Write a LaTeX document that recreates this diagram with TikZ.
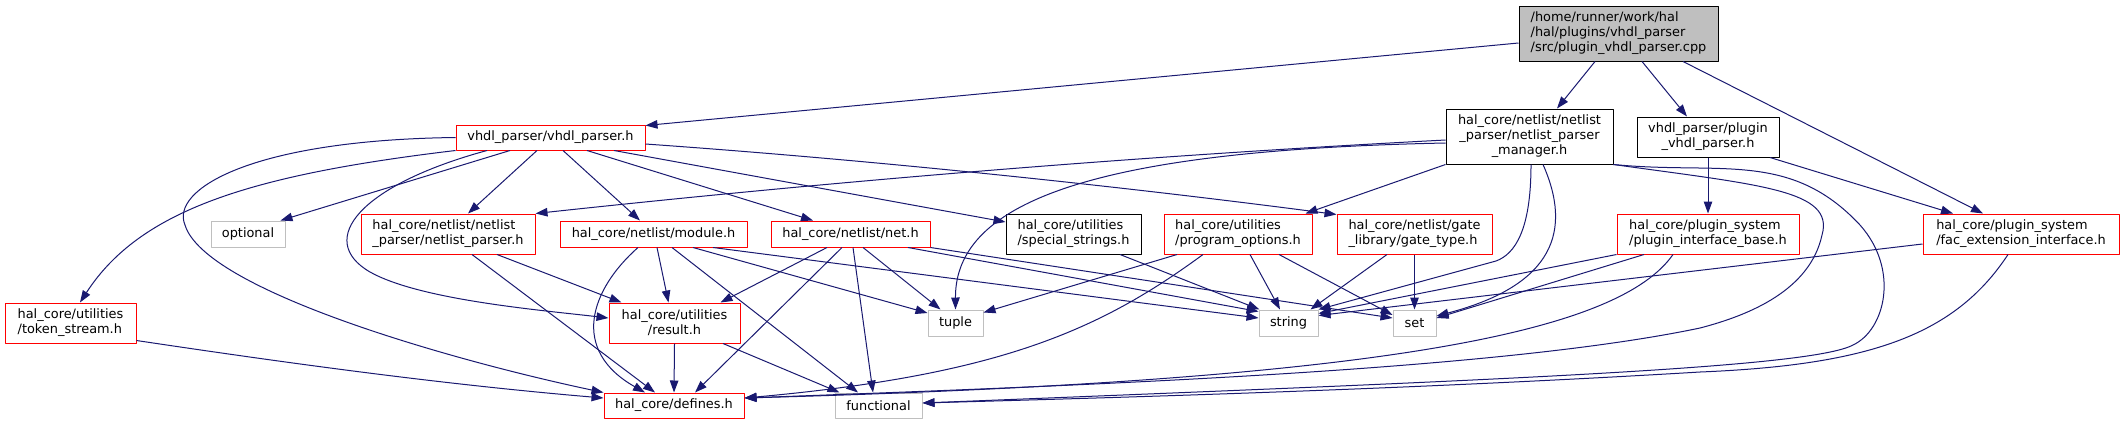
\documentclass[tikz,border=0pt]{standalone}
\usepackage{fontspec}
\setmainfont{DejaVu Sans}
\usepackage{tikz}
\usetikzlibrary{arrows.meta,calc}
\definecolor{edgeblue}{HTML}{191970}
\definecolor{sysgrey}{HTML}{BFBFBF}
\tikzset{hdr/.style 2 args={draw,inner sep=0pt,minimum width=#1pt,minimum height=#2pt,align=left,line width=1pt},
  redhdr/.style={draw=red},
  blkhdr/.style={draw=black},
  syshdr/.style={draw=sysgrey},
  incl/.style={->,edgeblue,line width=1pt}}

\begin{document}
\begin{tikzpicture}[x=1pt,y=-1pt,>={Triangle[length=12pt,width=8.5pt]},line join=round,font=\fontsize{12.9}{15}\selectfont]
\useasboundingbox (0,0) rectangle (2124,424);
% --- top: the source file and its direct includes
\node[hdr={199}{55},blkhdr,fill=sysgrey] (root) at (1618.5,33.5) {/home/runner/work/hal\\/hal/plugins/vhdl\_parser\\/src/plugin\_vhdl\_parser.cpp};
\node[hdr={189}{25},redhdr] (vhdl) at (550.5,137.5) {vhdl\_parser/vhdl\_parser.h};
\node[hdr={167}{55},blkhdr,align=center] (mgr) at (1529.5,136.5) {hal\_core/netlist/netlist\\\_parser/netlist\_parser\\\_manager.h};
\node[hdr={142}{40},blkhdr,align=center] (plug) at (1708,137) {vhdl\_parser/plugin\\\_vhdl\_parser.h};
% --- middle row
\node[hdr={131}{40},redhdr] (tok) at (70.5,323) {hal\_core/utilities\\/token\_stream.h};
\node[hdr={74}{26},syshdr] (opt) at (248,234) {optional};
\node[hdr={174}{40},redhdr] (nlp) at (448,234) {hal\_core/netlist/netlist\\\_parser/netlist\_parser.h};
\node[hdr={187}{26},redhdr] (mod) at (653.5,234) {hal\_core/netlist/module.h};
\node[hdr={159}{26},redhdr] (net) at (850.5,234) {hal\_core/netlist/net.h};
\node[hdr={135}{40},blkhdr] (sstr) at (1073.5,234) {hal\_core/utilities\\/special\_strings.h};
\node[hdr={148}{40},redhdr] (popt) at (1238,234) {hal\_core/utilities\\/program\_options.h};
\node[hdr={155}{40},redhdr] (gate) at (1414.5,234) {hal\_core/netlist/gate\\\_library/gate\_type.h};
\node[hdr={182}{40},redhdr] (pib) at (1708,234) {hal\_core/plugin\_system\\/plugin\_interface\_base.h};
\node[hdr={196}{40},redhdr] (fac) at (2021,234) {hal\_core/plugin\_system\\/fac\_extension\_interface.h};
% --- lower rows
\node[hdr={131}{40},redhdr,align=center] (res) at (674.5,323) {hal\_core/utilities\\/result.h};
\node[hdr={55}{26},syshdr] (tuple) at (955.5,323) {tuple};
\node[hdr={59}{26},syshdr] (string) at (1288.5,323) {string};
\node[hdr={43}{26},syshdr] (set) at (1414.5,323) {set};
\node[hdr={140}{25},redhdr] (def) at (674,405.5) {hal\_core/defines.h};
\node[hdr={87}{25},syshdr] (func) at (878.5,405.5) {functional};

% --- from the .cpp
\draw[incl] ([yshift=-9.5pt]root.west) -- ([yshift=-1pt]vhdl.north east);
\draw[incl] ([xshift=-23.5pt]root.south) -- ([xshift=27.5pt]mgr.north);
\draw[incl] ([xshift=23.5pt]root.south) -- ([xshift=-21pt]plug.north);
\draw[incl] ([xshift=64.5pt]root.south) -- ([xshift=-38pt]fac.north);
% --- plugin_vhdl_parser.h
\draw[incl] (plug.south) -- (pib.north);
\draw[incl] ([xshift=62pt]plug.south) -- ([xshift=-68pt]fac.north);
% --- vhdl_parser.h
\draw[incl] (vhdl.south west) .. controls (250,175) and (140,210) .. ([xshift=9.5pt]tok.north);
\draw[incl] (vhdl.west) .. controls (250,140) and (170,190) .. (185,225) .. controls (205,290) and (450,360) .. (def.north west);
\draw[incl] ([xshift=-63.5pt]vhdl.south) .. controls (360,185) and (315,240) .. (370,272) .. controls (420,300) and (540,310) .. ([yshift=5pt]res.west);
\draw[incl] ([xshift=-40.5pt]vhdl.south) -- ([xshift=-5pt]opt.north east);
\draw[incl] ([xshift=-13.5pt]vhdl.south) -- ([xshift=20pt]nlp.north);
\draw[incl] ([xshift=12.5pt]vhdl.south) -- ([xshift=-13.5pt]mod.north);
\draw[incl] ([xshift=36.5pt]vhdl.south) -- ([xshift=-37.5pt]net.north);
\draw[incl] ([xshift=63.5pt]vhdl.south) -- ([yshift=12pt]sstr.west);
\draw[incl] ([yshift=-6.5pt]vhdl.east) .. controls (900,162) and (1150,190) .. ([yshift=-1pt]gate.north west);
% --- netlist_parser_manager.h
\draw[incl] ([yshift=-3.5pt]mgr.west) .. controls (1100,158) and (800,185) .. (nlp.north east);
\draw[incl] ([yshift=-6.5pt]mgr.west) .. controls (1100,150) and (955,200) .. (tuple.north);
\draw[incl] (mgr.south west) -- ([xshift=-7pt]popt.north east);
\draw[incl] ([xshift=1.5pt]mgr.south) .. controls (1531,230) and (1515,254) .. (1496,261) -- (string.north east);
\draw[incl] ([xshift=13.5pt]mgr.south) .. controls (1572,230) and (1555,285) .. ([yshift=7pt]set.east);
\draw[incl] (mgr.south east) .. controls (1760,185) and (1835,190) .. (1822,235) .. controls (1810,290) and (1750,315) .. (1700,328) .. controls (1500,370) and (1100,385) .. ([yshift=7.5pt]def.east);
\draw[incl] (mgr.south east) .. controls (1720,175) and (1790,150) .. (1860,225) .. controls (1900,270) and (1885,330) .. (1853,345) .. controls (1810,368) and (1500,380) .. ([yshift=2.5pt]func.east);
% --- plugin_interface_base.h
\draw[incl] (pib.south west) -- ([yshift=-4pt]string.north east);
\draw[incl] ([xshift=-64pt]pib.south) -- ([yshift=5pt]set.east);
\draw[incl] ([xshift=-35pt]pib.south) .. controls (1620,330) and (1400,380) .. ([yshift=7.5pt]def.east);
% --- fac_extension_interface.h
\draw[incl] ([yshift=-10pt]fac.west) -- ([yshift=-6pt]string.north east);
\draw[incl] ([xshift=-13pt]fac.south) .. controls (1955,335) and (1870,365) .. (1700,372) .. controls (1400,390) and (1100,398) .. ([yshift=2.5pt]func.east);
% --- program_options.h
\draw[incl] ([xshift=-61pt]popt.south) -- ([yshift=-3pt]tuple.north east);
\draw[incl] ([xshift=-35pt]popt.south) .. controls (1100,330) and (1000,375) .. ([yshift=7.5pt]def.east);
\draw[incl] ([xshift=12pt]popt.south) -- ([xshift=-8.5pt]string.north);
\draw[incl] ([xshift=41pt]popt.south) -- ([yshift=8pt]set.west);
% --- gate_type.h, special_strings.h
\draw[incl] ([xshift=-27.5pt]gate.south) -- ([xshift=-8pt]string.north east);
\draw[incl] (gate.south) -- (set.north);
\draw[incl] ([xshift=46.5pt]sstr.south) -- ([xshift=1pt]string.north west);
% --- module.h
\draw[incl] ([xshift=-15.5pt]mod.south) .. controls (590,290) and (570,350) .. ([xshift=-29pt]def.north);
\draw[incl] ([xshift=3.5pt]mod.south) -- ([xshift=-6pt]res.north);
\draw[incl] ([xshift=18.5pt]mod.south) -- ([xshift=-20.5pt]func.north);
\draw[incl] ([xshift=39.5pt]mod.south) -- ([yshift=10pt]tuple.west);
\draw[incl] ([xshift=59.5pt]mod.south) -- ([yshift=5pt]string.west);
% --- net.h
\draw[incl] ([xshift=-23.5pt]net.south) -- ([xshift=-20pt]res.north east);
\draw[incl] ([xshift=-8.5pt]net.south) -- ([xshift=21pt]def.north);
\draw[incl] ([xshift=2.5pt]net.south) -- ([xshift=-5.5pt]func.north);
\draw[incl] ([xshift=12.5pt]net.south) -- ([xshift=-15pt]tuple.north);
\draw[incl] ([xshift=57.5pt]net.south) -- ([yshift=-2pt]string.north west);
\draw[incl] (net.south east) -- ([yshift=5pt]set.west);
% --- netlist_parser.h, token_stream.h, result.h
\draw[incl] ([xshift=24pt]nlp.south) -- ([xshift=-19pt]def.north);
\draw[incl] ([xshift=49pt]nlp.south) -- ([xshift=13pt]res.north west);
\draw[incl] ([yshift=3pt]tok.south east) .. controls (300,365) and (450,385) .. ([yshift=7.5pt]def.west);
\draw[incl] (res.south) -- (def.north);
\draw[incl] ([xshift=48.5pt]res.south) -- ([xshift=5pt]func.north west);
\end{tikzpicture}
\end{document}
